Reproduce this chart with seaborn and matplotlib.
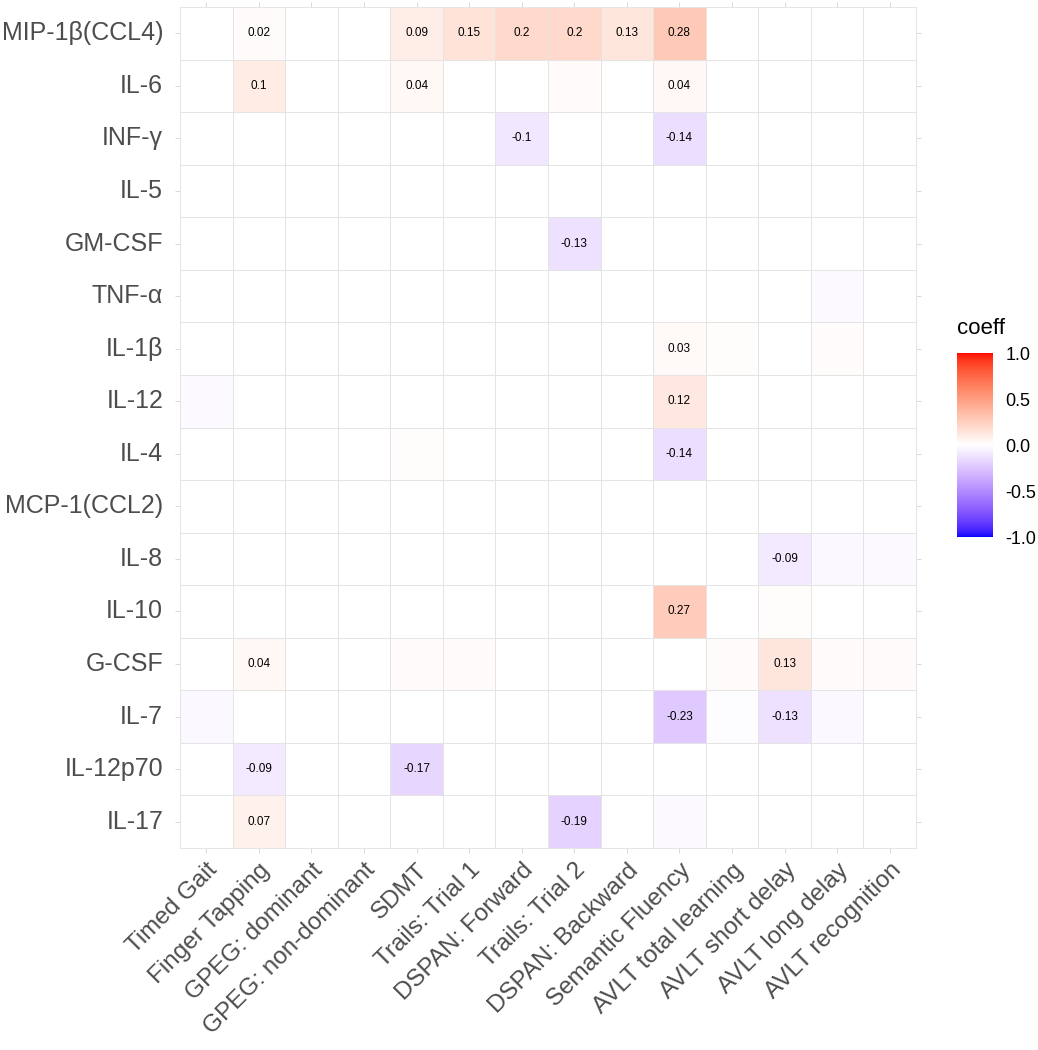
import numpy as np
import pandas as pd
import matplotlib
matplotlib.use("Agg")
import matplotlib.pyplot as plt
from matplotlib.colors import ListedColormap
import seaborn as sns

# ---------------- data ----------------
cytokines = ["MIP-1β(CCL4)", "IL-6", "INF-γ", "IL-5", "GM-CSF", "TNF-α", "IL-1β",
             "IL-12", "IL-4", "MCP-1(CCL2)", "IL-8", "IL-10", "G-CSF", "IL-7",
             "IL-12p70", "IL-17"]
tests = ["Timed Gait", "Finger Tapping", "GPEG: dominant", "GPEG: non-dominant",
         "SDMT", "Trails: Trial 1", "DSPAN: Forward", "Trails: Trial 2",
         "DSPAN: Backward", "Semantic Fluency", "AVLT total learning",
         "AVLT short delay", "AVLT long delay", "AVLT recognition"]

# coefficient per cytokine (row), columns in order of `tests`
r_mip1b   = [0, 0.02, 0, 0, 0.09, 0.15, 0.2, 0.2, 0.13, 0.28, 0, 0, 0, 0]
r_il6     = [0, 0.10, 0, 0, 0.04, 0, 0, 0.02, 0, 0.04, 0, 0, 0, 0]
r_infg    = [0, 0, 0, 0, 0, 0, -0.10, 0, 0, -0.14, 0, 0, 0, 0]
r_il5     = [0, 0, 0, 0, 0, 0, 0, 0, 0, 0, 0, 0, 0, 0]
r_gmcsf   = [0, 0, 0, 0, 0, 0, 0, -0.13, 0, 0, 0, 0, 0, 0]
r_tnfa    = [0, 0, 0, 0, 0, 0, 0, 0, 0, 0, 0, 0, -0.02, 0]
r_il1b    = [0, 0, 0, 0, 0, 0, 0, 0, 0, 0.03, 0.01, 0, 0.015, 0]
r_il12    = [-0.02, 0, 0, 0, 0, 0, 0, 0, 0, 0.12, 0, 0, 0, 0]
r_il4     = [0, 0, 0, 0, 0.01, 0, 0, 0, 0, -0.14, 0, 0, 0, 0]
r_mcp1    = [0, 0, 0, 0, 0, 0, 0, 0, 0, 0, 0, 0, 0, 0]
r_il8     = [0, 0, 0, 0, 0, 0, 0, 0, 0, 0, 0, -0.09, -0.03, -0.02]
r_il10    = [0, 0, 0, 0, 0, 0, 0, 0, 0, 0.27, 0, 0.01, 0, 0]
r_gcsf    = [0, 0.04, 0, 0, 0.02, 0.02, 0, 0, 0, 0, 0.02, 0.13, 0.02, 0.02]
r_il7     = [-0.03, 0, 0, 0, 0, 0, 0, 0, 0, -0.23, -0.01, -0.13, -0.03, 0]
r_il12p70 = [0, -0.09, 0, 0, -0.17, 0, 0, 0, 0, 0, 0, 0, 0, 0]
r_il17    = [0, 0.07, 0, 0, 0, 0, 0, -0.19, 0, -0.02, 0, 0, 0, 0]

# significant cells (labelled): (row, column) pairs
significant = [
    ("MIP-1β(CCL4)", "Finger Tapping"), ("MIP-1β(CCL4)", "SDMT"),
    ("MIP-1β(CCL4)", "Trails: Trial 1"), ("MIP-1β(CCL4)", "DSPAN: Forward"),
    ("MIP-1β(CCL4)", "Trails: Trial 2"), ("MIP-1β(CCL4)", "DSPAN: Backward"),
    ("MIP-1β(CCL4)", "Semantic Fluency"),
    ("IL-6", "Finger Tapping"), ("IL-6", "SDMT"), ("IL-6", "Semantic Fluency"),
    ("INF-γ", "DSPAN: Forward"), ("INF-γ", "Semantic Fluency"),
    ("GM-CSF", "Trails: Trial 2"),
    ("IL-1β", "Semantic Fluency"),
    ("IL-12", "Semantic Fluency"),
    ("IL-4", "Semantic Fluency"),
    ("IL-8", "AVLT short delay"),
    ("IL-10", "Semantic Fluency"),
    ("G-CSF", "Finger Tapping"), ("G-CSF", "AVLT short delay"),
    ("IL-7", "Semantic Fluency"), ("IL-7", "AVLT short delay"),
    ("IL-12p70", "Finger Tapping"), ("IL-12p70", "SDMT"),
    ("IL-17", "Finger Tapping"), ("IL-17", "Trails: Trial 2"),
]

rows = [r_mip1b, r_il6, r_infg, r_il5, r_gmcsf, r_tnfa, r_il1b, r_il12, r_il4,
        r_mcp1, r_il8, r_il10, r_gcsf, r_il7, r_il12p70, r_il17]
df = pd.DataFrame(rows, index=cytokines, columns=tests)

labels = pd.DataFrame("", index=cytokines, columns=tests)
for r, c in significant:
    labels.loc[r, c] = f"{df.loc[r, c]:g}"

# ------------- colour scale (Lab interpolation like ggplot gradient2) -------------
def srgb_to_lab(rgb):
    rgb = np.asarray(rgb, float)
    lin = np.where(rgb <= 0.04045, rgb / 12.92, ((rgb + 0.055) / 1.055) ** 2.4)
    M = np.array([[0.4124564, 0.3575761, 0.1804375],
                  [0.2126729, 0.7151522, 0.0721750],
                  [0.0193339, 0.1191920, 0.9503041]])
    xyz = M @ lin
    white = np.array([0.95047, 1.0, 1.08883])
    t = xyz / white
    f = np.where(t > (6 / 29) ** 3, np.cbrt(t), t / (3 * (6 / 29) ** 2) + 4 / 29)
    return np.array([116 * f[1] - 16, 500 * (f[0] - f[1]), 200 * (f[1] - f[2])])

def lab_to_srgb(lab):
    L, a, b = lab
    fy = (L + 16) / 116
    fx = fy + a / 500
    fz = fy - b / 200
    def finv(f):
        return np.where(f > 6 / 29, f ** 3, 3 * (6 / 29) ** 2 * (f - 4 / 29))
    white = np.array([0.95047, 1.0, 1.08883])
    xyz = np.array([finv(fx), finv(fy), finv(fz)]) * white
    Minv = np.array([[3.2404542, -1.5371385, -0.4985314],
                     [-0.9692660, 1.8760108, 0.0415560],
                     [0.0556434, -0.2040259, 1.0572252]])
    lin = Minv @ xyz
    lin = np.clip(lin, 0, 1)
    rgb = np.where(lin <= 0.0031308, 12.92 * lin, 1.055 * lin ** (1 / 2.4) - 0.055)
    return np.clip(rgb, 0, 1)

lab_low = srgb_to_lab([0, 0, 1])
lab_mid = srgb_to_lab([1, 1, 1])
lab_high = srgb_to_lab([1, 0, 0])
cols = []
for v in np.linspace(-1, 1, 513):
    if v < 0:
        lab = lab_mid + (lab_low - lab_mid) * (-v)
    else:
        lab = lab_mid + (lab_high - lab_mid) * v
    cols.append(lab_to_srgb(lab))
cmap = ListedColormap(cols)

# ---------------- plot ----------------
sns.set_style("white")
plt.rcParams["font.family"] = ["Liberation Sans", "DejaVu Sans"]

W, H = 1038, 1050
fig = plt.figure(figsize=(W / 100, H / 100), dpi=100)
ax = fig.add_axes([180 / W, (H - 848) / H, 736 / W, 841 / H])
cax = fig.add_axes([957 / W, (H - 537) / H, 36 / W, 184 / H])

sns.heatmap(df, ax=ax, cbar_ax=cax, cmap=cmap, vmin=-1, vmax=1,
            annot=labels.values, fmt="", annot_kws={"fontsize": 8.5, "color": "black"},
            linewidths=0.55, linecolor="#E4E4E4", square=False,
            cbar_kws={"ticks": [-1, -0.5, 0, 0.5, 1]})

for s in ax.spines.values():
    s.set_visible(True)
    s.set_color("#E4E4E4")
    s.set_linewidth(0.7)

ax.set_xlabel("")
ax.set_ylabel("")
ax.tick_params(axis="both", which="major", length=3.6, width=0.7, color="#D8D8D8",
               top=True, right=True, bottom=True, left=True,
               labeltop=False, labelright=False)
ax.tick_params(axis="y", pad=8.5, labelsize=18, labelcolor="#4D4D4D")
ax.tick_params(axis="x", pad=4.5, labelsize=17.5, labelcolor="#4D4D4D")
ax.set_yticklabels(cytokines, rotation=0)
ax.set_xticklabels(tests, rotation=45, ha="right", va="top", rotation_mode="anchor")

# colorbar styling
cbar = ax.collections[0].colorbar
cbar.outline.set_visible(False)
cbar.set_ticklabels(["-1.0", "-0.5", "0.0", "0.5", "1.0"])
cax.tick_params(axis="y", direction="in", length=5, width=0.8, color="white",
                left=True, right=True, labelsize=13, pad=9, labelcolor="black")
fig.text(957 / W, (H - 334) / H, "coeff", ha="left", va="baseline", fontsize=16,
         color="black")

fig.savefig("out.png", dpi=100, facecolor="white")
